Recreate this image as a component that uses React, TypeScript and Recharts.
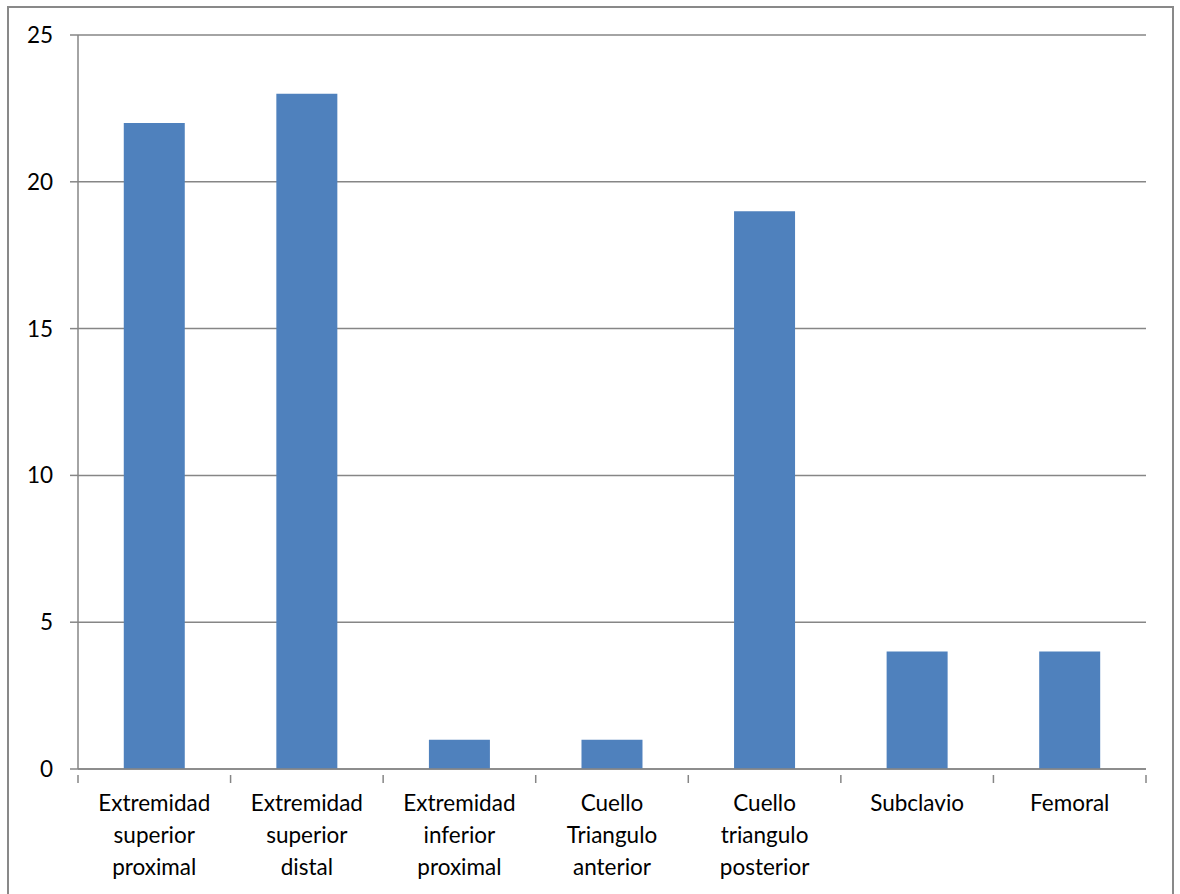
import { BarChart, Bar, XAxis, YAxis, CartesianGrid } from 'recharts'

const categories = [
  'Extremidad\nsuperior\nproximal',
  'Extremidad\nsuperior\ndistal',
  'Extremidad\ninferior\nproximal',
  'Cuello\nTriangulo\nanterior',
  'Cuello\ntriangulo\nposterior',
  'Subclavio',
  'Femoral',
]
const counts = [22, 23, 1, 1, 19, 4, 4]
const yTicks = [0, 5, 10, 15, 20, 25]

const data = categories.map((name, i) => ({ name, value: counts[i] }))

const AXIS = '#868686'
const FONT = 'Lato, "Open Sans", sans-serif'
const W = 1180
const H = 894
const MARGIN = { top: 35, right: 34, left: 0, bottom: 95 }
const Y_WIDTH = 78
const BAND = (W - MARGIN.right - Y_WIDTH) / categories.length

// category label split over lines, plus Excel-style tick marks between categories
// eslint-disable-next-line @typescript-eslint/no-explicit-any
function CategoryTick({ x, y, payload, index }: any) {
  const lines = String(payload.value).split('\n')
  const left = x - BAND / 2
  return (
    <g>
      <line x1={left} x2={left} y1={y - 8} y2={y} stroke={AXIS} strokeWidth={1.5} />
      {index === categories.length - 1 && (
        <line x1={left + BAND} x2={left + BAND} y1={y - 8} y2={y} stroke={AXIS} strokeWidth={1.5} />
      )}
      <text x={x} y={y + 28} textAnchor="middle" fontSize={22.5} fontFamily={FONT} fill="#000">
        {lines.map((l, i) => (
          <tspan key={i} x={x} dy={i === 0 ? 0 : 32}>
            {l}
          </tspan>
        ))}
      </text>
    </g>
  )
}

export default function App() {
  return (
    <div style={{ position: 'absolute', left: 0, top: 0, width: W, height: H, overflow: 'hidden', background: '#fff' }}>
      <div
        style={{
          position: 'absolute',
          left: 7,
          top: 6,
          width: 1167,
          height: 900,
          border: '2px solid #898989',
          boxSizing: 'border-box',
        }}
      />
      <div style={{ position: 'absolute', left: 0, top: 0 }}>
        <BarChart width={W} height={H} data={data} margin={MARGIN} barCategoryGap="30%">
          <CartesianGrid vertical={false} stroke={AXIS} strokeWidth={1.5} />
          <XAxis
            dataKey="name"
            interval={0}
            tickLine={false}
            axisLine={{ stroke: AXIS, strokeWidth: 1.5 }}
            tick={<CategoryTick />}
            tickMargin={8}
          />
          <YAxis
            width={Y_WIDTH}
            domain={[0, 25]}
            ticks={yTicks}
            interval={0}
            tickSize={8}
            tickMargin={17}
            tickLine={{ stroke: AXIS, strokeWidth: 1.5 }}
            axisLine={{ stroke: AXIS, strokeWidth: 1.5 }}
            tick={{ fontSize: 22.5, fontFamily: FONT, fill: '#000' }}
          />
          <Bar dataKey="value" fill="#4F81BD" isAnimationActive={false} />
        </BarChart>
      </div>
    </div>
  )
}
